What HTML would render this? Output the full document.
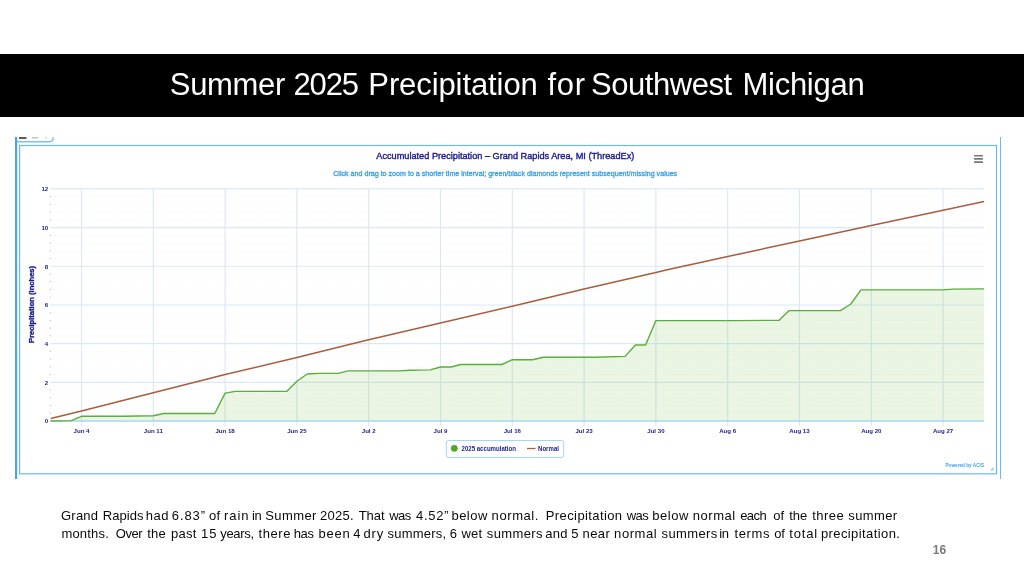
<!DOCTYPE html>
<html lang="en"><head><meta charset="utf-8"><title>Summer 2025 Precipitation for Southwest Michigan</title>
<style>
html,body{margin:0;padding:0;background:#fff}
body{width:1024px;height:576px;position:relative;overflow:hidden;font-family:"Liberation Sans",sans-serif}
.band{position:absolute;left:0;top:54.4px;width:1024px;height:62.4px;background:#000}
.title{position:absolute;left:0;top:62.1px;width:1024px;height:46px;line-height:46px;font-size:31px;color:#fff;white-space:nowrap;transform-origin:0 50%;}
.title span{position:absolute;top:0;white-space:pre}
.pl{position:absolute;left:0;width:1024px;height:18px;line-height:18px;font-size:13px;color:#0a0a0a}
.pl span{position:absolute;top:0;white-space:pre}
.pn{position:absolute;left:932.8px;top:544.1px;font-size:12px;font-weight:bold;color:#7a7a7a;line-height:12px}
</style></head><body>
<div class="band"></div>
<div class="title" id="t"><span style="left:169.8px;letter-spacing:-0.32px">Summer</span> <span style="left:293.5px;letter-spacing:-1.133px">2025</span> <span style="left:368.3px;letter-spacing:-0.092px">Precipitation</span> <span style="left:547.4px;letter-spacing:0.75px">for</span> <span style="left:591.0px;letter-spacing:-0.45px">Southwest</span> <span style="left:742.5px;letter-spacing:-0.271px">Michigan</span></div>
<svg width="1024" height="576" viewBox="0 0 1024 576" style="position:absolute;left:0;top:0" font-family="Liberation Sans, sans-serif">
<rect x="15" y="137" width="2.2" height="342" fill="#49a8e2"/>
<rect x="1000" y="137" width="1" height="342" fill="#6bbaea"/>
<path d="M17 141.7 H49.5 Q53.3 141.7 53.3 137.2" fill="none" stroke="#7cc2ee" stroke-width="1.4"/>
<rect x="19" y="137" width="7.5" height="2" fill="#333" opacity=".8"/>
<rect x="32" y="137.2" width="6" height="1.2" fill="#666" opacity=".5"/>
<rect x="45.5" y="137.2" width="1.5" height="1.2" fill="#888" opacity=".5"/>
<rect x="19.6" y="145.5" width="976.9" height="328.3" fill="#fff" stroke="#6abaeb" stroke-width="1.2"/>
<line x1="50.73" x2="984.1" y1="413.26" y2="413.26" stroke="#e8e8e8" stroke-width="0.7" stroke-dasharray="1.5 1.5" opacity=".35"/>
<rect x="49.8" y="412.76" width="1.2" height="1" fill="#bbb"/>
<line x1="50.73" x2="984.1" y1="405.53" y2="405.53" stroke="#e8e8e8" stroke-width="0.7" stroke-dasharray="1.5 1.5" opacity=".35"/>
<rect x="49.8" y="405.03" width="1.2" height="1" fill="#bbb"/>
<line x1="50.73" x2="984.1" y1="397.79" y2="397.79" stroke="#e8e8e8" stroke-width="0.7" stroke-dasharray="1.5 1.5" opacity=".35"/>
<rect x="49.8" y="397.29" width="1.2" height="1" fill="#bbb"/>
<line x1="50.73" x2="984.1" y1="390.06" y2="390.06" stroke="#e8e8e8" stroke-width="0.7" stroke-dasharray="1.5 1.5" opacity=".35"/>
<rect x="49.8" y="389.56" width="1.2" height="1" fill="#bbb"/>
<line x1="50.73" x2="984.1" y1="374.58" y2="374.58" stroke="#e8e8e8" stroke-width="0.7" stroke-dasharray="1.5 1.5" opacity=".35"/>
<rect x="49.8" y="374.08" width="1.2" height="1" fill="#bbb"/>
<line x1="50.73" x2="984.1" y1="366.85" y2="366.85" stroke="#e8e8e8" stroke-width="0.7" stroke-dasharray="1.5 1.5" opacity=".35"/>
<rect x="49.8" y="366.35" width="1.2" height="1" fill="#bbb"/>
<line x1="50.73" x2="984.1" y1="359.11" y2="359.11" stroke="#e8e8e8" stroke-width="0.7" stroke-dasharray="1.5 1.5" opacity=".35"/>
<rect x="49.8" y="358.61" width="1.2" height="1" fill="#bbb"/>
<line x1="50.73" x2="984.1" y1="351.38" y2="351.38" stroke="#e8e8e8" stroke-width="0.7" stroke-dasharray="1.5 1.5" opacity=".35"/>
<rect x="49.8" y="350.88" width="1.2" height="1" fill="#bbb"/>
<line x1="50.73" x2="984.1" y1="335.90" y2="335.90" stroke="#e8e8e8" stroke-width="0.7" stroke-dasharray="1.5 1.5" opacity=".35"/>
<rect x="49.8" y="335.40" width="1.2" height="1" fill="#bbb"/>
<line x1="50.73" x2="984.1" y1="328.17" y2="328.17" stroke="#e8e8e8" stroke-width="0.7" stroke-dasharray="1.5 1.5" opacity=".35"/>
<rect x="49.8" y="327.67" width="1.2" height="1" fill="#bbb"/>
<line x1="50.73" x2="984.1" y1="320.43" y2="320.43" stroke="#e8e8e8" stroke-width="0.7" stroke-dasharray="1.5 1.5" opacity=".35"/>
<rect x="49.8" y="319.93" width="1.2" height="1" fill="#bbb"/>
<line x1="50.73" x2="984.1" y1="312.70" y2="312.70" stroke="#e8e8e8" stroke-width="0.7" stroke-dasharray="1.5 1.5" opacity=".35"/>
<rect x="49.8" y="312.20" width="1.2" height="1" fill="#bbb"/>
<line x1="50.73" x2="984.1" y1="297.22" y2="297.22" stroke="#e8e8e8" stroke-width="0.7" stroke-dasharray="1.5 1.5" opacity=".35"/>
<rect x="49.8" y="296.72" width="1.2" height="1" fill="#bbb"/>
<line x1="50.73" x2="984.1" y1="289.49" y2="289.49" stroke="#e8e8e8" stroke-width="0.7" stroke-dasharray="1.5 1.5" opacity=".35"/>
<rect x="49.8" y="288.99" width="1.2" height="1" fill="#bbb"/>
<line x1="50.73" x2="984.1" y1="281.75" y2="281.75" stroke="#e8e8e8" stroke-width="0.7" stroke-dasharray="1.5 1.5" opacity=".35"/>
<rect x="49.8" y="281.25" width="1.2" height="1" fill="#bbb"/>
<line x1="50.73" x2="984.1" y1="274.02" y2="274.02" stroke="#e8e8e8" stroke-width="0.7" stroke-dasharray="1.5 1.5" opacity=".35"/>
<rect x="49.8" y="273.52" width="1.2" height="1" fill="#bbb"/>
<line x1="50.73" x2="984.1" y1="258.54" y2="258.54" stroke="#e8e8e8" stroke-width="0.7" stroke-dasharray="1.5 1.5" opacity=".35"/>
<rect x="49.8" y="258.04" width="1.2" height="1" fill="#bbb"/>
<line x1="50.73" x2="984.1" y1="250.81" y2="250.81" stroke="#e8e8e8" stroke-width="0.7" stroke-dasharray="1.5 1.5" opacity=".35"/>
<rect x="49.8" y="250.31" width="1.2" height="1" fill="#bbb"/>
<line x1="50.73" x2="984.1" y1="243.07" y2="243.07" stroke="#e8e8e8" stroke-width="0.7" stroke-dasharray="1.5 1.5" opacity=".35"/>
<rect x="49.8" y="242.57" width="1.2" height="1" fill="#bbb"/>
<line x1="50.73" x2="984.1" y1="235.34" y2="235.34" stroke="#e8e8e8" stroke-width="0.7" stroke-dasharray="1.5 1.5" opacity=".35"/>
<rect x="49.8" y="234.84" width="1.2" height="1" fill="#bbb"/>
<line x1="50.73" x2="984.1" y1="219.86" y2="219.86" stroke="#e8e8e8" stroke-width="0.7" stroke-dasharray="1.5 1.5" opacity=".35"/>
<rect x="49.8" y="219.36" width="1.2" height="1" fill="#bbb"/>
<line x1="50.73" x2="984.1" y1="212.13" y2="212.13" stroke="#e8e8e8" stroke-width="0.7" stroke-dasharray="1.5 1.5" opacity=".35"/>
<rect x="49.8" y="211.63" width="1.2" height="1" fill="#bbb"/>
<line x1="50.73" x2="984.1" y1="204.39" y2="204.39" stroke="#e8e8e8" stroke-width="0.7" stroke-dasharray="1.5 1.5" opacity=".35"/>
<rect x="49.8" y="203.89" width="1.2" height="1" fill="#bbb"/>
<line x1="50.73" x2="984.1" y1="196.66" y2="196.66" stroke="#e8e8e8" stroke-width="0.7" stroke-dasharray="1.5 1.5" opacity=".35"/>
<rect x="49.8" y="196.16" width="1.2" height="1" fill="#bbb"/>
<line x1="50.23" x2="984.1" y1="382.32" y2="382.32" stroke="#d9e8f6" stroke-width="1.15"/>
<line x1="50.23" x2="984.1" y1="343.64" y2="343.64" stroke="#d9e8f6" stroke-width="1.15"/>
<line x1="50.23" x2="984.1" y1="304.96" y2="304.96" stroke="#d9e8f6" stroke-width="1.15"/>
<line x1="50.23" x2="984.1" y1="266.28" y2="266.28" stroke="#d9e8f6" stroke-width="1.15"/>
<line x1="50.23" x2="984.1" y1="227.60" y2="227.60" stroke="#d9e8f6" stroke-width="1.15"/>
<line x1="50.23" x2="984.1" y1="188.92" y2="188.92" stroke="#d9e8f6" stroke-width="1.15"/>
<line x1="81.50" x2="81.50" y1="188.9" y2="426.0" stroke="#d9e8f6" stroke-width="1.15"/>
<line x1="153.30" x2="153.30" y1="188.9" y2="426.0" stroke="#d9e8f6" stroke-width="1.15"/>
<line x1="225.10" x2="225.10" y1="188.9" y2="426.0" stroke="#d9e8f6" stroke-width="1.15"/>
<line x1="296.90" x2="296.90" y1="188.9" y2="426.0" stroke="#d9e8f6" stroke-width="1.15"/>
<line x1="368.70" x2="368.70" y1="188.9" y2="426.0" stroke="#d9e8f6" stroke-width="1.15"/>
<line x1="440.50" x2="440.50" y1="188.9" y2="426.0" stroke="#d9e8f6" stroke-width="1.15"/>
<line x1="512.29" x2="512.29" y1="188.9" y2="426.0" stroke="#d9e8f6" stroke-width="1.15"/>
<line x1="584.09" x2="584.09" y1="188.9" y2="426.0" stroke="#d9e8f6" stroke-width="1.15"/>
<line x1="655.89" x2="655.89" y1="188.9" y2="426.0" stroke="#d9e8f6" stroke-width="1.15"/>
<line x1="727.69" x2="727.69" y1="188.9" y2="426.0" stroke="#d9e8f6" stroke-width="1.15"/>
<line x1="799.49" x2="799.49" y1="188.9" y2="426.0" stroke="#d9e8f6" stroke-width="1.15"/>
<line x1="871.29" x2="871.29" y1="188.9" y2="426.0" stroke="#d9e8f6" stroke-width="1.15"/>
<line x1="943.09" x2="943.09" y1="188.9" y2="426.0" stroke="#d9e8f6" stroke-width="1.15"/>
<polygon points="50.7,421.0 50.7,421.0 71.2,420.6 81.5,416.3 122.5,416.2 153.3,415.8 163.6,413.5 214.8,413.5 225.1,393.1 235.4,391.4 286.6,391.4 296.9,381.2 307.2,374.0 317.4,373.4 337.9,373.4 348.2,370.9 399.5,370.9 409.7,370.3 430.2,369.9 440.5,367.0 450.8,367.0 461.0,364.5 502.0,364.5 512.3,359.7 532.8,359.7 543.1,357.2 594.4,357.2 625.1,356.4 635.4,345.0 645.6,345.0 655.9,320.6 737.9,320.6 779.0,320.2 789.2,310.6 840.5,310.6 850.8,304.0 861.0,289.9 943.1,289.9 953.3,289.1 984.1,288.9 984.1,421.0" fill="#7cbf55" fill-opacity="0.16"/>
<line x1="50.23" x2="984.1" y1="421.0" y2="421.0" stroke="#a9d6f0" stroke-width="1.4"/>
<polyline points="50.7,418.5 81.5,410.9 153.3,392.8 225.1,374.6 296.9,357.4 348.2,344.8 368.7,339.8 440.5,323.1 512.3,306.3 584.1,289.1 655.9,272.5 666.1,270.1 727.7,256.6 799.5,240.9 871.3,225.5 943.1,210.2 984.1,201.5" fill="none" stroke="#a85e3e" stroke-width="1.5" stroke-linejoin="round"/>
<polyline points="50.7,421.0 71.2,420.6 81.5,416.3 122.5,416.2 153.3,415.8 163.6,413.5 214.8,413.5 225.1,393.1 235.4,391.4 286.6,391.4 296.9,381.2 307.2,374.0 317.4,373.4 337.9,373.4 348.2,370.9 399.5,370.9 409.7,370.3 430.2,369.9 440.5,367.0 450.8,367.0 461.0,364.5 502.0,364.5 512.3,359.7 532.8,359.7 543.1,357.2 594.4,357.2 625.1,356.4 635.4,345.0 645.6,345.0 655.9,320.6 737.9,320.6 779.0,320.2 789.2,310.6 840.5,310.6 850.8,304.0 861.0,289.9 943.1,289.9 953.3,289.1 984.1,288.9" fill="none" stroke="#59ae3c" stroke-width="1.4" stroke-linejoin="round"/>
<text x="48.2" y="423.3" text-anchor="end" font-size="6.1" font-weight="bold" fill="#1c1c8e">0</text>
<text x="48.2" y="384.6" text-anchor="end" font-size="6.1" font-weight="bold" fill="#1c1c8e">2</text>
<text x="48.2" y="345.9" text-anchor="end" font-size="6.1" font-weight="bold" fill="#1c1c8e">4</text>
<text x="48.2" y="307.3" text-anchor="end" font-size="6.1" font-weight="bold" fill="#1c1c8e">6</text>
<text x="48.2" y="268.6" text-anchor="end" font-size="6.1" font-weight="bold" fill="#1c1c8e">8</text>
<text x="48.2" y="229.9" text-anchor="end" font-size="6.1" font-weight="bold" fill="#1c1c8e">10</text>
<text x="48.2" y="191.2" text-anchor="end" font-size="6.1" font-weight="bold" fill="#1c1c8e">12</text>
<text x="81.5" y="433.1" text-anchor="middle" font-size="6.1" font-weight="bold" fill="#1c1c8e">Jun 4</text>
<text x="153.3" y="433.1" text-anchor="middle" font-size="6.1" font-weight="bold" fill="#1c1c8e">Jun 11</text>
<text x="225.1" y="433.1" text-anchor="middle" font-size="6.1" font-weight="bold" fill="#1c1c8e">Jun 18</text>
<text x="296.9" y="433.1" text-anchor="middle" font-size="6.1" font-weight="bold" fill="#1c1c8e">Jun 25</text>
<text x="368.7" y="433.1" text-anchor="middle" font-size="6.1" font-weight="bold" fill="#1c1c8e">Jul 2</text>
<text x="440.5" y="433.1" text-anchor="middle" font-size="6.1" font-weight="bold" fill="#1c1c8e">Jul 9</text>
<text x="512.3" y="433.1" text-anchor="middle" font-size="6.1" font-weight="bold" fill="#1c1c8e">Jul 16</text>
<text x="584.1" y="433.1" text-anchor="middle" font-size="6.1" font-weight="bold" fill="#1c1c8e">Jul 23</text>
<text x="655.9" y="433.1" text-anchor="middle" font-size="6.1" font-weight="bold" fill="#1c1c8e">Jul 30</text>
<text x="727.7" y="433.1" text-anchor="middle" font-size="6.1" font-weight="bold" fill="#1c1c8e">Aug 6</text>
<text x="799.5" y="433.1" text-anchor="middle" font-size="6.1" font-weight="bold" fill="#1c1c8e">Aug 13</text>
<text x="871.3" y="433.1" text-anchor="middle" font-size="6.1" font-weight="bold" fill="#1c1c8e">Aug 20</text>
<text x="943.1" y="433.1" text-anchor="middle" font-size="6.1" font-weight="bold" fill="#1c1c8e">Aug 27</text>
<text transform="translate(34.2,304.4) rotate(-90)" text-anchor="middle" font-size="7.2" font-weight="bold" fill="#1c1c8e" stroke="#1c1c8e" stroke-width=".35" textLength="77" lengthAdjust="spacingAndGlyphs">Precipitation (inches)</text>
<text x="505.3" y="159.3" text-anchor="middle" font-size="9.7" fill="#1c1c8e" stroke="#1c1c8e" stroke-width=".4" textLength="258" lengthAdjust="spacingAndGlyphs">Accumulated Precipitation – Grand Rapids Area, MI (ThreadEx)</text>
<text x="505.2" y="176" text-anchor="middle" font-size="7" fill="#38a0e2" stroke="#38a0e2" stroke-width=".3" textLength="344" lengthAdjust="spacingAndGlyphs">Click and drag to zoom to a shorter time interval; green/black diamonds represent subsequent/missing values</text>
<rect x="974" y="155.0" width="9" height="1.6" rx=".5" fill="#777"/>
<rect x="974" y="158.1" width="9" height="1.6" rx=".5" fill="#777"/>
<rect x="974" y="161.3" width="9" height="1.6" rx=".5" fill="#777"/>
<rect x="446.3" y="440.5" width="117.4" height="17" rx="2.5" fill="#fff" stroke="#a6d6f6" stroke-width="1"/>
<circle cx="454.3" cy="448.3" r="3.4" fill="#4fa82a"/>
<text x="461.5" y="450.7" font-size="6.6" font-weight="bold" fill="#1c1c8e" textLength="54.5" lengthAdjust="spacingAndGlyphs">2025 accumulation</text>
<line x1="527" x2="535.5" y1="448.5" y2="448.5" stroke="#a85e3e" stroke-width="1.3"/>
<text x="538" y="450.7" font-size="6.6" font-weight="bold" fill="#1c1c8e" textLength="21" lengthAdjust="spacingAndGlyphs">Normal</text>
<text x="984" y="466.5" text-anchor="end" font-size="5.4" font-weight="bold" fill="#3fa4e4" textLength="38.5" lengthAdjust="spacingAndGlyphs">Powered by ACIS</text>
<path d="M993.5 467 L993.5 470.5 L990 470.5 Z" fill="#9cc8e8"/>
</svg>
<div class="pl" id="l1" style="top:506.8px"><span style="left:61.0px;letter-spacing:0.225px">Grand</span> <span style="left:102.7px;letter-spacing:0.06px">Rapids</span> <span style="left:145.7px;letter-spacing:0.5px">had</span> <span style="left:171.85px;letter-spacing:0.9px">6.83”</span> <span style="left:209.0px;letter-spacing:0.3px">of</span> <span style="left:224.1px;letter-spacing:0.9px">rain</span> <span style="left:252.0px;letter-spacing:-0.4px">in</span> <span style="left:265.3px;letter-spacing:0.38px">Summer</span> <span style="left:319.9px;letter-spacing:0.3px">2025.</span> <span style="left:358.7px;letter-spacing:-0.067px">That</span> <span style="left:389.15px;letter-spacing:-0.5px">was</span> <span style="left:416.0px;letter-spacing:0.725px">4.52”</span> <span style="left:451.5px;letter-spacing:0.45px">below</span> <span style="left:491.6px;letter-spacing:0.583px">normal.</span> <span style="left:545.8px;letter-spacing:0.392px">Precipitation</span> <span style="left:626.7px;letter-spacing:-0.5px">was</span> <span style="left:652.3px;letter-spacing:0.5px">below</span> <span style="left:692.7px;letter-spacing:0.56px">normal</span> <span style="left:740.15px;letter-spacing:-0.5px">each</span> <span style="left:773.2px;letter-spacing:0.2px">of</span> <span style="left:789.3px;letter-spacing:-0.1px">the</span> <span style="left:812.3px;letter-spacing:0.425px">three</span> <span style="left:848.3px;letter-spacing:0.36px">summer</span></div>
<div class="pl" id="l2" style="top:524.9px"><span style="left:61.4px;letter-spacing:0.2px">months.</span> <span style="left:115.8px;letter-spacing:-0.5px">Over</span> <span style="left:147.3px;letter-spacing:0.15px">the</span> <span style="left:171.0px;letter-spacing:0.233px">past</span> <span style="left:201.1px;letter-spacing:0.9px">15</span> <span style="left:220.3px;letter-spacing:-0.34px">years,</span> <span style="left:258.5px;letter-spacing:0.6px">there</span> <span style="left:293.7px;letter-spacing:-0.35px">has</span> <span style="left:318.4px;letter-spacing:0.8px">been</span> <span style="left:353.25px;letter-spacing:0px">4</span> <span style="left:363.4px;letter-spacing:0.9px">dry</span> <span style="left:387.5px;letter-spacing:0.214px">summers,</span> <span style="left:449.85px;letter-spacing:0px">6</span> <span style="left:461.5px;letter-spacing:0.2px">wet</span> <span style="left:486.8px;letter-spacing:0.367px">summers</span> <span style="left:545.3px;letter-spacing:0.2px">and</span> <span style="left:571.35px;letter-spacing:0px">5</span> <span style="left:582.5px;letter-spacing:0.4px">near</span> <span style="left:614.1px;letter-spacing:0.56px">normal</span> <span style="left:661.5px;letter-spacing:0.4px">summers</span> <span style="left:719.3px;letter-spacing:-0.5px">in</span> <span style="left:734.5px;letter-spacing:0.6px">terms</span> <span style="left:774.3px;letter-spacing:-0.3px">of</span> <span style="left:789.3px;letter-spacing:0.825px">total</span> <span style="left:820.9px;letter-spacing:0.408px">precipitation.</span></div>
<div class="pn">16</div>
</body></html>
